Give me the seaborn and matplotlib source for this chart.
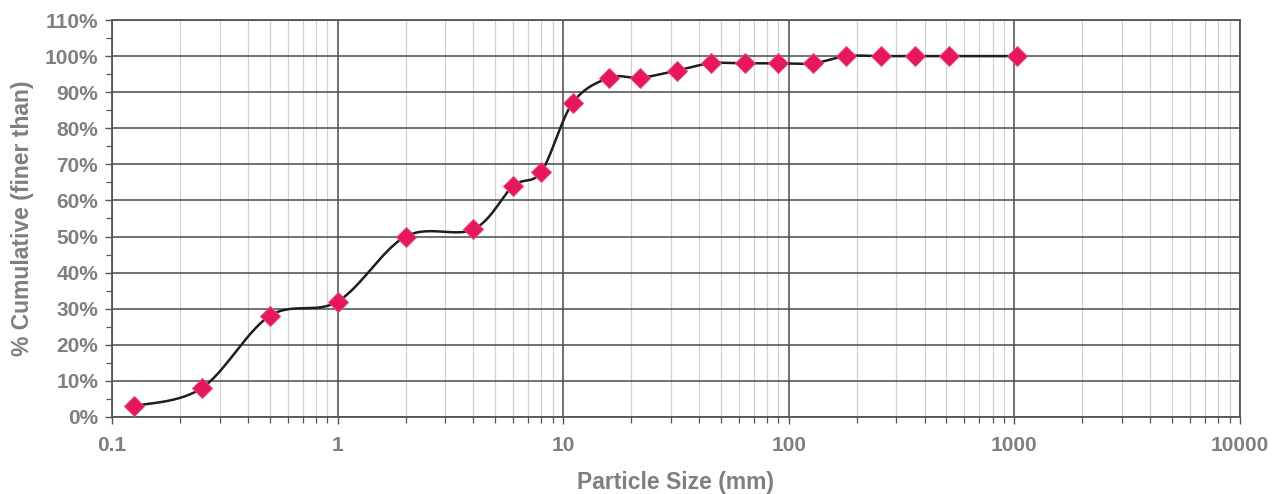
import numpy as np
import pandas as pd
import matplotlib
matplotlib.use("Agg")
import matplotlib.pyplot as plt
import matplotlib.ticker as mticker
import seaborn as sns

# Sieve analysis: particle size (mm) vs cumulative percent finer
sizes_mm = [0.125, 0.25, 0.5, 1, 2, 4, 6, 8, 11, 16, 22, 32, 45, 64, 90, 128,
            180, 256, 362, 512, 1024]
pct_finer = [3, 8, 28, 32, 50, 52, 64, 68, 87, 94, 94, 96, 98, 98, 98, 98,
             100, 100, 100, 100, 100]
y_ticks = list(range(0, 111, 10))
x_ticks = [0.1, 1, 10, 100, 1000, 10000]
x_tick_labels = ["0.1", "1", "10", "100", "1000", "10000"]

TEXT = "#7f7f7f"
GRID_MAJOR = "#4a4a4a"
GRID_MINOR = "#d2d2d2"
MARKER = "#E8175D"

sns.set_theme(style="white")
plt.rcParams["font.family"] = ["Liberation Sans", "DejaVu Sans"]

fig = plt.figure(figsize=(12.82, 4.94), dpi=100)
ax = fig.add_axes([0.0874, 0.1559, 0.8798, 0.8036])
ax.set_xscale("log")
ax.set_xlim(0.1, 10000)
ax.set_ylim(0, 110)

df = pd.DataFrame({"size": sizes_mm, "finer": pct_finer})

# Smoothed connecting curve (cardinal spline in screen-proportional units)
px_per_dec = 226.0
px_per_pct = 3.61
u = np.log10(df["size"].to_numpy()) * px_per_dec
v = df["finer"].to_numpy(dtype=float) * px_per_pct
pts = np.column_stack([u, v])
curve = []
n = len(pts)
t = np.linspace(0, 1, 30)
for i in range(n - 1):
    p0 = pts[max(i - 1, 0)]
    p1 = pts[i]
    p2 = pts[i + 1]
    p3 = pts[min(i + 2, n - 1)]
    c1 = p1 + (p2 - p0) / 6.0
    c2 = p2 - (p3 - p1) / 6.0
    seg = ((1 - t) ** 3)[:, None] * p1 + (3 * (1 - t) ** 2 * t)[:, None] * c1 \
        + (3 * (1 - t) * t ** 2)[:, None] * c2 + (t ** 3)[:, None] * p2
    curve.append(seg if i == 0 else seg[1:])
curve = np.vstack(curve)
curve_df = pd.DataFrame({"size": 10 ** (curve[:, 0] / px_per_dec),
                         "finer": curve[:, 1] / px_per_pct})

sns.lineplot(data=curve_df, x="size", y="finer", sort=False, color="#1e1e1e",
             linewidth=1.8, ax=ax, zorder=3)
sns.scatterplot(data=df, x="size", y="finer", marker="D", s=105, color=MARKER,
                edgecolor="#f04a80", linewidth=0.6, ax=ax, zorder=4)

# Grid
ax.xaxis.set_major_locator(mticker.FixedLocator(x_ticks))
ax.xaxis.set_minor_locator(mticker.LogLocator(base=10, subs=np.arange(2, 10)))
ax.xaxis.set_minor_formatter(mticker.NullFormatter())
ax.set_xticklabels(x_tick_labels)
ax.set_yticks(y_ticks)
ax.set_yticklabels([f"{v}%" for v in y_ticks])
ax.yaxis.set_minor_locator(mticker.MultipleLocator(5))

ax.grid(True, which="major", axis="both", color=GRID_MAJOR, linewidth=1.1)
ax.grid(True, which="minor", axis="x", color=GRID_MINOR, linewidth=0.9)
ax.set_axisbelow(True)

for s in ax.spines.values():
    s.set_visible(True)
    s.set_color("#555555")
    s.set_linewidth(1.3)

ax.tick_params(axis="both", which="major", direction="out", length=5,
               width=1.0, color="#555555", labelcolor=TEXT, labelsize=15)
ax.tick_params(axis="both", which="minor", direction="out", length=4,
               width=0.9, color="#555555")
ax.tick_params(axis="x", which="both", bottom=True, top=False, pad=9)
ax.tick_params(axis="y", which="both", left=True, right=False, pad=5)
for lab in ax.get_xticklabels() + ax.get_yticklabels():
    lab.set_fontweight("bold")

ax.set_xlabel("Particle Size (mm)", color=TEXT, fontsize=16.5,
              fontweight="bold", labelpad=11)
ax.set_ylabel("% Cumulative (finer than)", color=TEXT, fontsize=16.5,
              fontweight="bold", labelpad=8)

fig.savefig("out.png", dpi=100, facecolor="white")
